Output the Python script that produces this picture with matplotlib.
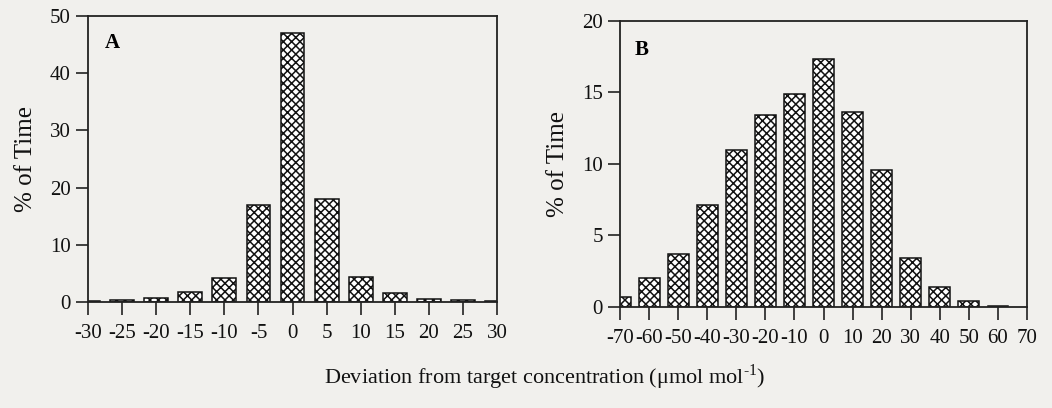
import numpy as np
import matplotlib
matplotlib.use("Agg")
import matplotlib.pyplot as plt

# ---- data ----
dev_a = [-30, -25, -20, -15, -10, -5, 0, 5, 10, 15, 20, 25, 30]
pct_a = [0.1, 0.35, 0.75, 1.7, 4.2, 16.9, 47.1, 18.0, 4.3, 1.55, 0.55, 0.3, 0.1]

dev_b = [-70, -60, -50, -40, -30, -20, -10, 0, 10, 20, 30, 40, 50, 60]
pct_b = [0.7, 2.05, 3.7, 7.1, 11.0, 13.4, 14.85, 17.35, 13.65, 9.6, 3.45, 1.4, 0.4, 0.05]

ticks_a = list(range(-30, 31, 5))
ticks_b = list(range(-70, 71, 10))

plt.rcParams['font.family'] = ['Liberation Serif', 'DejaVu Serif']
plt.rcParams['mathtext.fontset'] = 'custom'
plt.rcParams['mathtext.rm'] = 'Liberation Serif'
plt.rcParams['axes.unicode_minus'] = False
plt.rcParams['hatch.linewidth'] = 1.1

BG = '#f1f0ed'

fig = plt.figure(figsize=(10.52, 4.08), dpi=100, facecolor=BG)
ax_a = fig.add_axes([0.0837, 0.2598, 0.3888, 0.701])
ax_b = fig.add_axes([0.5894, 0.2475, 0.3869, 0.7017])


def style(ax, xt, yt, xlim, ylim):
    ax.set_facecolor(BG)
    ax.set_xlim(*xlim)
    ax.set_ylim(*ylim)
    ax.set_xticks(xt)
    ax.set_yticks(yt)
    ax.tick_params(direction='out', length=9, width=1.2, labelsize=15, color='#222222', labelcolor='#111111')
    ax.tick_params(axis='x', pad=7)
    for s in ax.spines.values():
        s.set_linewidth(1.3)
        s.set_color('#222222')
    ax.set_ylabel('% of Time', fontsize=18, labelpad=9, color='#111111')


ax_a.bar(dev_a, pct_a, width=3.5, facecolor='white', edgecolor='#111111', hatch='xxxx', linewidth=1.1)
style(ax_a, ticks_a, [0, 10, 20, 30, 40, 50], (-30, 30), (0, 50))
ax_a.text(0.059, 0.905, 'A', transform=ax_a.transAxes, fontsize=15, fontweight='bold', ha='center', va='center')

ax_b.bar(dev_b, pct_b, width=7.2, facecolor='white', edgecolor='#111111', hatch='xxxx', linewidth=1.1)
style(ax_b, ticks_b, [0, 5, 10, 15, 20], (-70, 70), (0, 20))
ax_b.text(0.053, 0.898, 'B', transform=ax_b.transAxes, fontsize=15, fontweight='bold', ha='center', va='center')

fig.text(0.518, 0.075, r'Deviation from target concentration ($\mathrm{\mu}$mol mol$^{\text{-1}}$)',
         fontsize=16, ha='center', va='center', color='#111111')

fig.savefig('out.png', dpi=100, facecolor=BG)
